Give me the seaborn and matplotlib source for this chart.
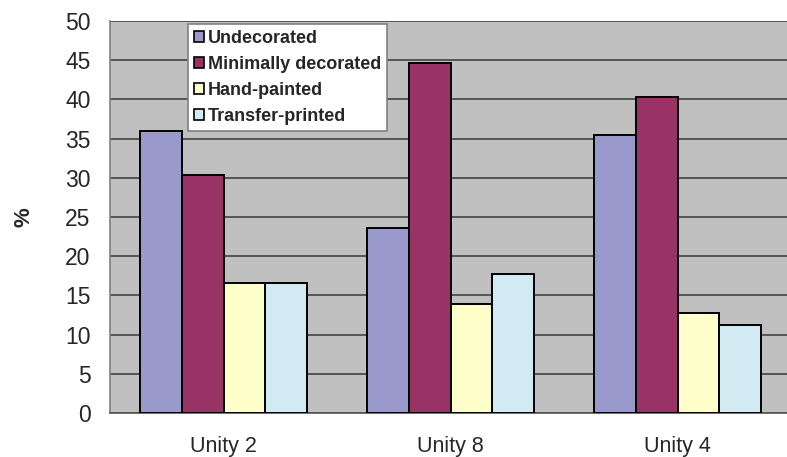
import pandas as pd
import matplotlib
matplotlib.use("Agg")
import matplotlib.pyplot as plt
import seaborn as sns

# Datos
sitios = ["Unity 2", "Unity 8", "Unity 4"]
tipos = ["Undecorated", "Minimally decorated", "Hand-painted", "Transfer-printed"]
undecorated = [36.0, 23.6, 35.4]
minimally = [30.3, 44.6, 40.3]
hand_painted = [16.6, 13.9, 12.8]
transfer = [16.6, 17.7, 11.2]
colores = ["#9999CC", "#993366", "#FFFFCC", "#D2EBF2"]

series = [undecorated, minimally, hand_painted, transfer]
filas = []
for tipo, valores in zip(tipos, series):
    for sitio, v in zip(sitios, valores):
        filas.append({"Sitio": sitio, "Tipo": tipo, "Porcentaje": v})
df = pd.DataFrame(filas)

sns.set_style("white")
plt.rcParams["font.family"] = ["Liberation Sans", "DejaVu Sans"]

fig = plt.figure(figsize=(7.87, 4.57), dpi=100)
ax = fig.add_axes([110 / 787, 44 / 457, 677 / 787, 392 / 457])
ax.set_facecolor("#C0C0C0")

sns.barplot(data=df, x="Sitio", y="Porcentaje", hue="Tipo", order=sitios,
            hue_order=tipos, palette=colores, width=0.734, edgecolor="black",
            linewidth=1.4, saturation=1, ax=ax, zorder=3)

ax.set_ylim(0, 50)
ax.set_yticks(range(0, 51, 5))
ax.set_xlim(-0.5, 2.482)
ax.yaxis.grid(True, color="#555555", linewidth=1.4, zorder=0)
ax.set_axisbelow(True)

ax.set_xticks([0.5, 1.5], minor=True)
ax.tick_params(axis="x", which="major", length=0, labelsize=15.5, pad=16.5)
ax.tick_params(axis="x", which="minor", length=6, width=1, color="#555555")
ax.tick_params(axis="y", length=7, width=1, color="#555555", labelsize=16.5, pad=7)
ax.set_xlabel("")
ax.set_ylabel("%", fontsize=16, fontweight="bold")
ax.yaxis.set_label_coords(-0.112, 0.5)

for lado in ["top", "right"]:
    ax.spines[lado].set_visible(False)
ax.spines["left"].set_color("#808080")
ax.spines["left"].set_linewidth(1.2)
ax.spines["bottom"].set_color("#555555")
ax.spines["bottom"].set_linewidth(1.2)

leg = ax.legend(loc="upper left", bbox_to_anchor=(0.115, 0.993), frameon=True,
                fancybox=False, edgecolor="#808080", framealpha=1,
                prop={"size": 13, "weight": "bold"}, handlelength=0.55,
                handleheight=0.55, handletextpad=0.2, labelspacing=0.5,
                borderpad=0.35, borderaxespad=0)
leg.get_frame().set_linewidth(1.2)
for h in leg.legend_handles:
    h.set_edgecolor("black")
    h.set_linewidth(1.2)

fig.savefig("out.png", dpi=100)
plt.close()
